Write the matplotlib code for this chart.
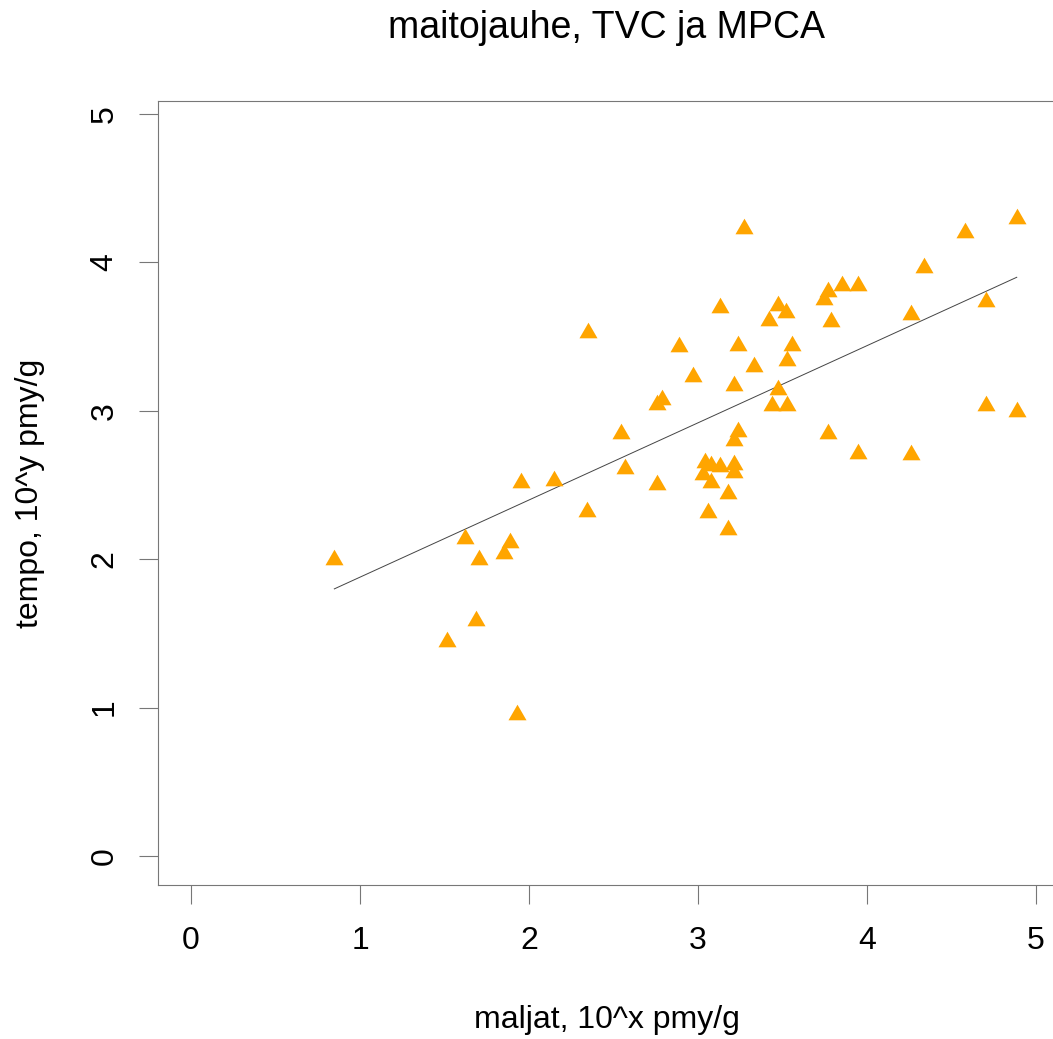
import numpy as np
import matplotlib
matplotlib.use("Agg")
from matplotlib import pyplot as plt

# maljat (x) ja tempo (y), log10 pmy/g
maljat = [0.848, 1.515, 1.621, 1.686, 1.706, 1.854, 1.888, 1.927, 1.954, 2.148,
          2.341, 2.347, 2.543, 2.570, 2.756, 2.756, 2.785, 2.888, 2.969, 3.041,
          3.077, 3.130, 3.215, 3.031, 3.077, 3.215, 3.057, 3.176, 3.175, 3.238,
          3.215, 3.215, 3.130, 3.238, 3.272, 3.333, 3.421, 3.439, 3.475, 3.475,
          3.521, 3.525, 3.525, 3.558, 3.746, 3.769, 3.767, 3.789, 3.850, 3.945,
          3.945, 4.260, 4.260, 4.335, 4.580, 4.704, 4.704, 4.886, 4.886]
tempo = [2.012, 1.462, 2.158, 1.606, 2.012, 2.054, 2.128, 0.968, 2.534, 2.546,
         2.337, 3.543, 2.866, 2.627, 2.518, 3.056, 3.093, 3.448, 3.246, 2.668,
         2.650, 2.640, 2.657, 2.590, 2.534, 2.601, 2.334, 2.216, 2.460, 2.875,
         2.817, 3.189, 3.713, 3.459, 4.245, 3.313, 3.627, 3.055, 3.728, 3.160,
         3.677, 3.354, 3.055, 3.459, 3.769, 3.819, 2.864, 3.617, 3.863, 3.863,
         2.729, 3.668, 2.720, 3.982, 4.218, 3.751, 3.055, 4.313, 3.012]
ticks = [0, 1, 2, 3, 4, 5]

# suoran kertoimet (luettu kuvasta)
fit_a = 1.359
fit_b = 0.520

plt.rcParams['font.family'] = ['Liberation Sans', 'DejaVu Sans']

W, H = 1053, 1039
fig = plt.figure(figsize=(W / 100, H / 100), dpi=100)
ax = fig.add_axes([158 / W, 1 - 885 / H, (1055 - 158) / W, (885 - 101) / H])

tri = [(0, 0.866), (-1, -0.866), (1, -0.866)]
ax.scatter(maljat, tempo, marker=tri, s=13 ** 2, color='#FFA500', linewidths=0, zorder=3)

xs = np.array([min(maljat), max(maljat)])
ax.plot(xs, fit_a + fit_b * xs, color='#444444', lw=0.7, zorder=2)

ax.set_xlim(-0.1953, 5.1124)
ax.set_ylim(-0.1954, 5.0876)
ax.set_xticks(ticks)
ax.set_yticks(ticks)
ax.set_xticklabels([str(t) for t in ticks], fontsize=23)
ax.set_yticklabels([str(t) for t in ticks], fontsize=23, rotation=90, va='center')
ax.tick_params(axis='both', direction='out', length=13.7, width=0.8, color='#777777')
ax.tick_params(axis='x', pad=16)
ax.tick_params(axis='y', pad=14)
for s in ['left', 'bottom', 'top', 'right']:
    ax.spines[s].set_color('#777777')
    ax.spines[s].set_linewidth(0.8)

fig.text(606.5 / W, 1 - 27.5 / H, 'maitojauhe, TVC ja MPCA', fontsize=27,
         ha='center', va='center')
fig.text(606.5 / W, 1 - 1020 / H, 'maljat, 10^x pmy/g', fontsize=23,
         ha='center', va='center')
fig.text(30 / W, 1 - 493 / H, 'tempo, 10^y pmy/g', fontsize=23,
         ha='center', va='center', rotation=90)

fig.savefig('out.png', dpi=100)
